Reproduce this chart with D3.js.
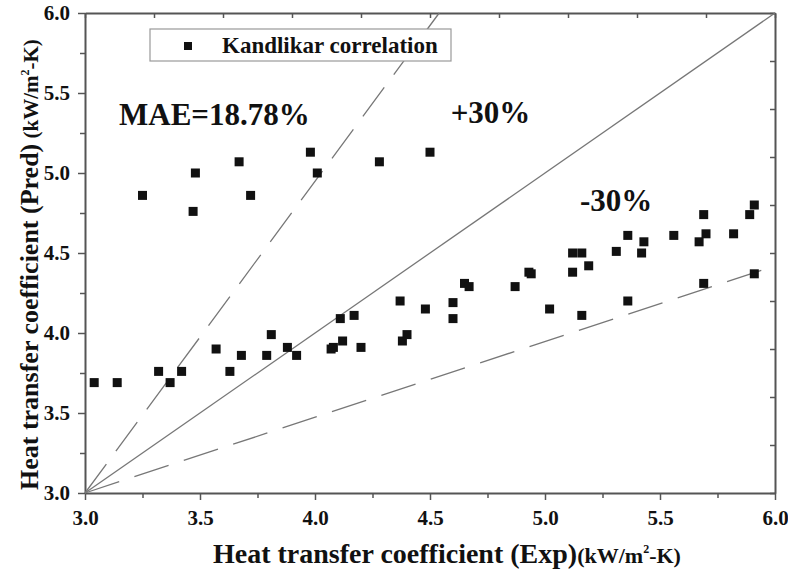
<!DOCTYPE html>
<meta charset="utf-8">
<head>
    <title>Kandlikar correlation</title>
</head>
<style>
    body { margin: 0; background: #fff; }
    text { font-family: "Liberation Serif", "Times New Roman", serif; font-weight: bold; fill: #111; }
    .axis path, .axis line { stroke: #555; }
    .axis text { font-size: 21px; }
</style>
<svg width="788" height="580"></svg>
<script src="https://d3js.org/d3.v7.min.js"></script>
<script>

    // experimental vs predicted heat transfer coefficient (kW/m2-K)
    var expX = [3.25, 3.48, 3.47, 3.67, 3.72, 3.98, 4.01, 4.28, 4.50,
        3.04, 3.14, 3.32, 3.37, 3.42, 3.57, 3.63, 3.68, 3.79, 3.81, 3.88, 3.92,
        4.07, 4.08, 4.11, 4.12, 4.17, 4.20, 4.37, 4.38, 4.40, 4.48, 4.60, 4.60,
        4.65, 4.67, 4.87, 4.93, 4.94, 5.02, 5.12, 5.16, 5.12, 5.16, 5.19, 5.31,
        5.36, 5.36, 5.42, 5.43, 5.56, 5.67, 5.69, 5.70, 5.69, 5.82, 5.89, 5.91, 5.91];
    var predY = [4.86, 5.00, 4.76, 5.07, 4.86, 5.13, 5.00, 5.07, 5.13,
        3.69, 3.69, 3.76, 3.69, 3.76, 3.90, 3.76, 3.86, 3.86, 3.99, 3.91, 3.86,
        3.90, 3.91, 4.09, 3.95, 4.11, 3.91, 4.20, 3.95, 3.99, 4.15, 4.19, 4.09,
        4.31, 4.29, 4.29, 4.38, 4.37, 4.15, 4.50, 4.50, 4.38, 4.11, 4.42, 4.51,
        4.61, 4.20, 4.50, 4.57, 4.61, 4.57, 4.74, 4.62, 4.31, 4.62, 4.74, 4.80, 4.37];

    // reference lines (start / end in data units)
    var lineEqual = [[3, 3], [6, 6]];
    var linePlus = [[3, 3], [4.54, 6]];
    var lineMinus = [[3, 3], [6, 4.42]];

    var xTicks = [3.0, 3.5, 4.0, 4.5, 5.0, 5.5, 6.0];
    var yTicks = [3.0, 3.5, 4.0, 4.5, 5.0, 5.5, 6.0];

    var svg = d3.select("svg"),
        plotL = 85, plotR = 775, plotT = 13, plotB = 493;

    var x = d3.scaleLinear().domain([3, 6]).range([plotL, plotR]);
    var y = d3.scaleLinear().domain([3, 6]).range([plotB, plotT]);

    // minor ticks
    svg.append("g").attr("class", "axis")
        .attr("transform", "translate(0," + plotB + ")")
        .call(d3.axisBottom(x).tickValues(d3.range(3.25, 6, 0.5)).tickSize(5).tickFormat(""))
        .select(".domain").remove();
    svg.append("g").attr("class", "axis")
        .attr("transform", "translate(" + plotL + ",0)")
        .call(d3.axisLeft(y).tickValues(d3.range(3.25, 6, 0.5)).tickSize(5).tickFormat(""))
        .select(".domain").remove();

    svg.append("g").attr("class", "axis")
        .attr("transform", "translate(0," + plotB + ")")
        .call(d3.axisBottom(x).tickValues(xTicks).tickSize(7).tickPadding(10).tickSizeOuter(0)
            .tickFormat(d3.format(".1f")));
    svg.append("g").attr("class", "axis")
        .attr("transform", "translate(" + plotL + ",0)")
        .call(d3.axisLeft(y).tickValues(yTicks).tickSize(7).tickPadding(8).tickSizeOuter(0)
            .tickFormat(d3.format(".1f")));

    // opposite axes: plain frame with inward ticks
    var frame = d3.scaleLinear().domain([0, 10]);
    svg.append("g").attr("class", "axis")
        .attr("transform", "translate(0," + plotT + ")")
        .call(d3.axisBottom(frame.copy().range([plotL, plotR])).ticks(10).tickSize(5).tickSizeOuter(0).tickFormat(""));
    svg.append("g").attr("class", "axis")
        .attr("transform", "translate(" + plotR + ",0)")
        .call(d3.axisLeft(frame.copy().range([plotB, plotT])).ticks(10).tickSize(5).tickSizeOuter(0).tickFormat(""));

    svg.selectAll(".axis path").attr("stroke-width", 2);
    svg.selectAll(".axis line").attr("stroke-width", 1.5);

    var line = d3.line().x(function(d) { return x(d[0]); }).y(function(d) { return y(d[1]); });

    svg.append("path").attr("d", line(lineEqual))
        .attr("stroke", "#777").attr("stroke-width", 1.3).attr("fill", "none");
    svg.append("path").attr("d", line(linePlus))
        .attr("stroke", "#777").attr("stroke-width", 1.3).attr("fill", "none")
        .attr("stroke-dasharray", "36,16");
    svg.append("path").attr("d", line(lineMinus))
        .attr("stroke", "#777").attr("stroke-width", 1.3).attr("fill", "none")
        .attr("stroke-dasharray", "36,16");

    var s = 9;
    svg.append("g").selectAll("rect")
        .data(d3.range(expX.length))
        .enter().append("rect")
        .attr("x", function(i) { return x(expX[i]) - s / 2; })
        .attr("y", function(i) { return y(predY[i]) - s / 2; })
        .attr("width", s).attr("height", s)
        .attr("fill", "#111");

    // legend
    var lg = svg.append("g").attr("transform", "translate(150,29)");
    lg.append("rect").attr("width", 301).attr("height", 32)
        .attr("fill", "#fff").attr("stroke", "#999").attr("stroke-width", 1.2);
    lg.append("rect").attr("x", 34).attr("y", 13).attr("width", 8).attr("height", 8).attr("fill", "#111");
    lg.append("text").attr("x", 72).attr("y", 24).style("font-size", "23px").text("Kandlikar correlation");

    // annotations
    svg.append("text").attr("x", x(3.148)).attr("y", y(5.30)).style("font-size", "31px").text("MAE=18.78%");
    svg.append("text").attr("x", x(4.59)).attr("y", y(5.31)).style("font-size", "31px").text("+30%");
    svg.append("text").attr("x", x(5.152)).attr("y", y(4.76)).style("font-size", "31px").text("-30%");

    // axis titles
    var xt = svg.append("text").attr("x", 213).attr("y", 563).style("font-size", "28px");
    xt.append("tspan").text("Heat transfer coefficient (Exp)");
    xt.append("tspan").style("font-size", "22px").text("(kW/m");
    xt.append("tspan").style("font-size", "12px").attr("dy", -10).text("2");
    xt.append("tspan").style("font-size", "22px").attr("dy", 10).text("-K)");

    var yt = svg.append("text").attr("transform", "translate(38,490) rotate(-90)").style("font-size", "26px");
    yt.append("tspan").text("Heat transfer coefficient (Pred)");
    yt.append("tspan").style("font-size", "21px").text(" (kW/m");
    yt.append("tspan").style("font-size", "12px").attr("dy", -9).text("2");
    yt.append("tspan").style("font-size", "21px").attr("dy", 9).text("-K)");

</script>
